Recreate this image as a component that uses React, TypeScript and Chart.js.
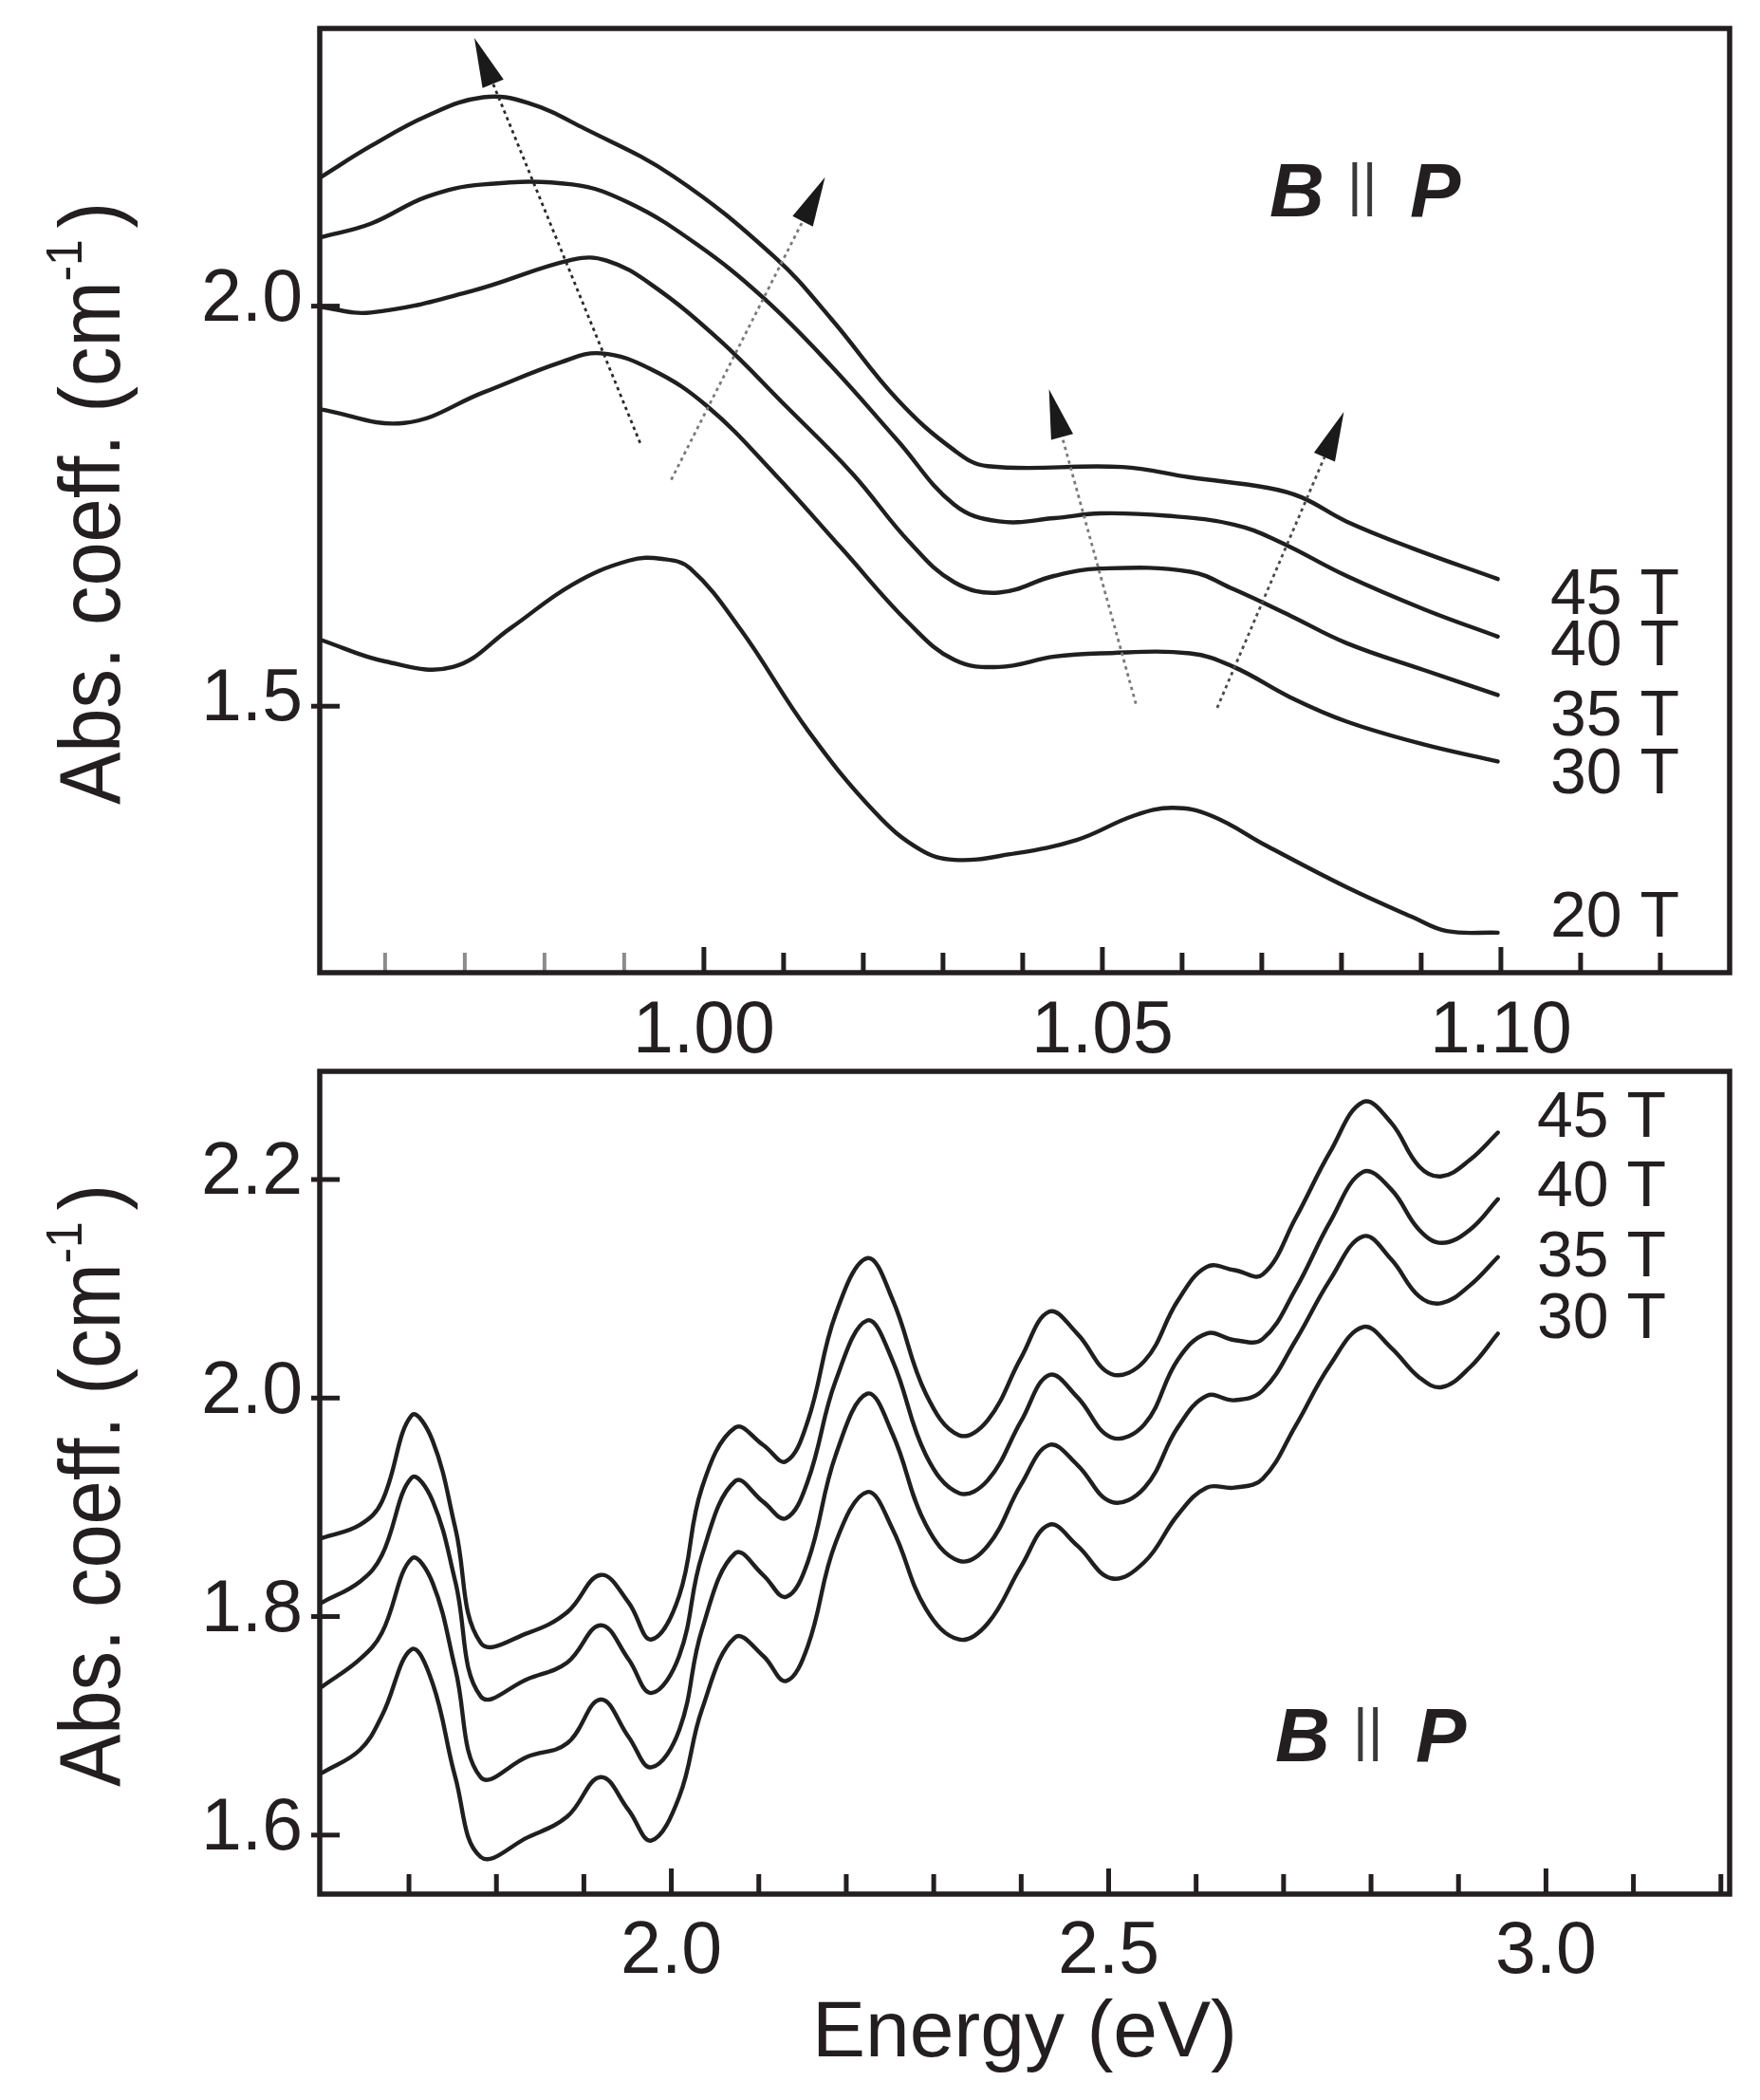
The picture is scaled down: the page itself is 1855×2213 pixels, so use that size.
import React, { useEffect, useRef } from 'react';
import { Chart, registerables } from 'chart.js';

Chart.register(...registerables);

// ---------- upper panel: absorption near 1.0 eV ----------
const TOP_E_20 = [0.9519, 0.96, 0.9685, 0.9758, 0.9835, 0.9906, 0.9948, 0.9983, 1.0046, 1.0131, 1.0215, 1.0271, 1.0314, 1.0384, 1.0468, 1.0539, 1.0588, 1.0637, 1.0707, 1.0806, 1.089, 1.0932, 1.0996];
const TOP_A_20 = [1.583, 1.556, 1.549, 1.598, 1.652, 1.682, 1.684, 1.672, 1.596, 1.469, 1.367, 1.321, 1.308, 1.315, 1.333, 1.363, 1.373, 1.363, 1.325, 1.274, 1.236, 1.219, 1.217];

const TOP_E_30 = [0.9519, 0.9624, 0.9723, 0.9821, 0.9871, 0.9934, 1.0004, 1.0089, 1.0173, 1.0257, 1.0314, 1.037, 1.044, 1.0497, 1.061, 1.0665, 1.0736, 1.0806, 1.0904, 1.0996];
const TOP_A_30 = [1.871, 1.854, 1.892, 1.93, 1.941, 1.921, 1.875, 1.79, 1.697, 1.604, 1.558, 1.549, 1.562, 1.566, 1.566, 1.549, 1.511, 1.481, 1.452, 1.431];

const TOP_E_35 = [0.9519, 0.9582, 0.9709, 0.9835, 0.9878, 0.9934, 1.0018, 1.0103, 1.0187, 1.0257, 1.0314, 1.037, 1.044, 1.0497, 1.061, 1.0665, 1.0736, 1.0806, 1.0904, 1.0996];
const TOP_A_35 = [1.999, 1.992, 2.019, 2.058, 2.057, 2.027, 1.959, 1.875, 1.79, 1.706, 1.655, 1.642, 1.663, 1.672, 1.668, 1.646, 1.613, 1.579, 1.545, 1.514];

const TOP_E_40 = [0.9519, 0.9582, 0.9653, 0.9723, 0.9835, 0.9906, 0.999, 1.0075, 1.0159, 1.0243, 1.0314, 1.037, 1.044, 1.0497, 1.0581, 1.0665, 1.0721, 1.0806, 1.0904, 1.0996];
const TOP_A_40 = [2.086, 2.103, 2.137, 2.152, 2.152, 2.129, 2.078, 2.01, 1.926, 1.832, 1.752, 1.731, 1.735, 1.741, 1.738, 1.727, 1.706, 1.663, 1.621, 1.587];

const TOP_E_45 = [0.9519, 0.9582, 0.9653, 0.9723, 0.9779, 0.985, 0.9962, 1.0089, 1.0159, 1.0243, 1.0314, 1.0356, 1.0525, 1.061, 1.0707, 1.075, 1.0806, 1.089, 1.0996];
const TOP_A_45 = [2.161, 2.2, 2.238, 2.261, 2.254, 2.222, 2.162, 2.061, 1.985, 1.883, 1.82, 1.8, 1.799, 1.786, 1.773, 1.761, 1.731, 1.697, 1.659];

const TOP_FIELDS = ['20 T', '30 T', '35 T', '40 T', '45 T'];
const TOP_X_TICKS = [0.96, 0.97, 0.98, 0.99, 1.0, 1.01, 1.02, 1.03, 1.04, 1.05, 1.06, 1.07, 1.08, 1.09, 1.1, 1.11, 1.12];
const TOP_X_LABELED = [1.0, 1.05, 1.1];
const TOP_Y_TICKS = [1.5, 2.0];

// peak-shift arrows (tail -> tip), in eV and cm^-1
const ARROW_TAIL_E = [0.992, 0.9959, 1.0542, 1.0644];
const ARROW_TAIL_A = [1.829, 1.783, 1.503, 1.498];
const ARROW_TIP_E = [0.9712, 1.0152, 1.0433, 1.0803];
const ARROW_TIP_A = [2.335, 2.161, 1.896, 1.868];

// ---------- lower panel: absorption 1.6 - 3.0 eV ----------
const BOTTOM_E = [1.601, 1.644, 1.669, 1.703, 1.727, 1.753, 1.782, 1.836, 1.881, 1.919, 1.951, 1.977, 2.009, 2.035, 2.073, 2.105, 2.131, 2.156, 2.188, 2.224, 2.253, 2.291, 2.329, 2.362, 2.4, 2.432, 2.464, 2.503, 2.541, 2.579, 2.612, 2.644, 2.676, 2.714, 2.753, 2.791, 2.823, 2.855, 2.881, 2.913, 2.945];
const BOTTOM_A_30 = [1.657, 1.678, 1.709, 1.77, 1.739, 1.653, 1.58, 1.598, 1.617, 1.653, 1.623, 1.595, 1.635, 1.715, 1.781, 1.764, 1.741, 1.773, 1.868, 1.914, 1.88, 1.807, 1.779, 1.794, 1.846, 1.884, 1.865, 1.835, 1.85, 1.893, 1.918, 1.918, 1.926, 1.975, 2.03, 2.065, 2.046, 2.019, 2.01, 2.028, 2.059];
const BOTTOM_A_35 = [1.736, 1.761, 1.785, 1.853, 1.831, 1.752, 1.653, 1.672, 1.684, 1.724, 1.69, 1.662, 1.696, 1.788, 1.858, 1.838, 1.818, 1.85, 1.948, 2.004, 1.967, 1.884, 1.851, 1.865, 1.921, 1.957, 1.939, 1.905, 1.918, 1.973, 2.002, 1.998, 2.007, 2.053, 2.108, 2.148, 2.127, 2.093, 2.087, 2.103, 2.129];
const BOTTOM_A_40 = [1.813, 1.832, 1.856, 1.927, 1.906, 1.832, 1.727, 1.743, 1.758, 1.792, 1.761, 1.73, 1.764, 1.856, 1.924, 1.905, 1.89, 1.924, 2.016, 2.071, 2.034, 1.948, 1.913, 1.925, 1.979, 2.021, 2.001, 1.964, 1.976, 2.035, 2.059, 2.053, 2.054, 2.1, 2.161, 2.207, 2.191, 2.154, 2.142, 2.154, 2.182];
const BOTTOM_A_45 = [1.872, 1.884, 1.905, 1.984, 1.961, 1.881, 1.776, 1.785, 1.804, 1.838, 1.813, 1.779, 1.819, 1.918, 1.973, 1.957, 1.942, 1.979, 2.077, 2.128, 2.09, 2.004, 1.966, 1.98, 2.037, 2.079, 2.059, 2.022, 2.034, 2.089, 2.12, 2.117, 2.113, 2.165, 2.225, 2.271, 2.252, 2.212, 2.203, 2.218, 2.243];

const BOTTOM_FIELDS = ['30 T', '35 T', '40 T', '45 T'];
const BOTTOM_X_TICKS = [1.7, 1.8, 1.9, 2.0, 2.1, 2.2, 2.3, 2.4, 2.5, 2.6, 2.7, 2.8, 2.9, 3.0, 3.1, 3.2];
const BOTTOM_X_LABELED = [2.0, 2.5, 3.0];
const BOTTOM_Y_TICKS = [1.6, 1.8, 2.0, 2.2];

// ---------- styling ----------
const INK = '#231f20';
const CURVE = '#1f1f1f';
const SANS = '"Liberation Sans", Arimo, Arial, Helvetica, sans-serif';
const PAGE_W = 1855;

type Series = { e: number[]; a: number[] };

type PanelSpec = {
  top: number; // canvas offset on the page
  height: number;
  plotLeft: number;
  plotTop: number;
  plotRight: number;
  plotBottom: number;
  xMin: number; xMax: number;
  yMin: number; yMax: number;
  xTicks: number[];
  xLabeled: number[];
  xDigits: number;
  xLabelPad: number;
  yTicks: number[];
  series: Series[];
  fields: string[];
  fieldE: number;
  fieldA: number[];
  tagX: number; tagBaseline: number;
  faintBelow?: number;
  arrows?: boolean;
  xTitle?: string;
};

const TOP_SPEC: PanelSpec = {
  top: 0,
  height: 1110,
  plotLeft: 337,
  plotTop: 30,
  plotRight: 1823,
  plotBottom: 1025,
  xMin: 0.9518, xMax: 1.1287,
  yMin: 1.167, yMax: 2.347,
  xTicks: TOP_X_TICKS,
  xLabeled: TOP_X_LABELED,
  xDigits: 2,
  xLabelPad: 9,
  yTicks: TOP_Y_TICKS,
  series: [
    { e: TOP_E_20, a: TOP_A_20 },
    { e: TOP_E_30, a: TOP_A_30 },
    { e: TOP_E_35, a: TOP_A_35 },
    { e: TOP_E_40, a: TOP_A_40 },
    { e: TOP_E_45, a: TOP_A_45 },
  ],
  fields: TOP_FIELDS,
  fieldE: 1.1062,
  fieldA: [1.234, 1.413, 1.486, 1.574, 1.638],
  tagX: 1338, tagBaseline: 228,
  faintBelow: 0.995,
  arrows: true,
};

const BOTTOM_SPEC: PanelSpec = {
  top: 1110,
  height: 1103,
  plotLeft: 337,
  plotTop: 1129 - 1110,
  plotRight: 1823,
  plotBottom: 1996 - 1110,
  xMin: 1.598, xMax: 3.21,
  yMin: 1.546, yMax: 2.299,
  xTicks: BOTTOM_X_TICKS,
  xLabeled: BOTTOM_X_LABELED,
  xDigits: 1,
  xLabelPad: 8,
  yTicks: BOTTOM_Y_TICKS,
  series: [
    { e: BOTTOM_E, a: BOTTOM_A_30 },
    { e: BOTTOM_E, a: BOTTOM_A_35 },
    { e: BOTTOM_E, a: BOTTOM_A_40 },
    { e: BOTTOM_E, a: BOTTOM_A_45 },
  ],
  fields: BOTTOM_FIELDS,
  fieldE: 2.9897,
  fieldA: [2.071, 2.128, 2.192, 2.2556],
  tagX: 1344, tagBaseline: 1856 - 1110,
  xTitle: 'Energy (eV)',
};

const near = (list: number[], v: number) => list.some((m) => Math.abs(m - v) < 1e-6);

// rotated axis title with a raised "-1"
function drawYTitle(ctx: CanvasRenderingContext2D, baseX: number, midY: number) {
  const size = 90;
  const targetLen = 635;
  const main = 'Abs. coeff. (cm';
  const sup = '-1';
  const close = ')';
  ctx.save();
  ctx.font = `${size}px ${SANS}`;
  const wMain = ctx.measureText(main).width;
  const wClose = ctx.measureText(close).width;
  ctx.font = `${size * 0.6}px ${SANS}`;
  const wSup = ctx.measureText(sup).width;
  const gap = size * 0.14;
  const natural = wMain + wSup + gap + wClose;
  ctx.translate(baseX, midY);
  ctx.rotate(-Math.PI / 2);
  ctx.scale(targetLen / natural, 1);
  ctx.fillStyle = INK;
  ctx.textAlign = 'left';
  ctx.textBaseline = 'alphabetic';
  let cx = -natural / 2;
  ctx.font = `${size}px ${SANS}`;
  ctx.fillText(main, cx, 0);
  cx += wMain;
  ctx.font = `${size * 0.6}px ${SANS}`;
  ctx.fillText(sup, cx, -size * 0.44);
  cx += wSup + gap;
  ctx.font = `${size}px ${SANS}`;
  ctx.fillText(close, cx, 0);
  ctx.restore();
}

// "B || P" orientation tag
function drawTag(ctx: CanvasRenderingContext2D, x: number, baseline: number) {
  const capH = 57;
  ctx.save();
  ctx.fillStyle = INK;
  ctx.textAlign = 'left';
  ctx.textBaseline = 'alphabetic';
  ctx.font = `italic bold 80px ${SANS}`;
  ctx.fillText('B', x, baseline);
  ctx.fillText('P', x + 148, baseline);
  // the bars are sized to span the capital height
  ctx.font = `100px ${SANS}`;
  const m = ctx.measureText('||');
  const span = m.actualBoundingBoxAscent + m.actualBoundingBoxDescent || 114;
  const size = (100 * capH) / span;
  const desc = ((m.actualBoundingBoxDescent || 21) * size) / 100;
  ctx.font = `${size}px ${SANS}`;
  ctx.fillStyle = '#3a3a3a';
  ctx.fillText('||', x + 82, baseline - desc);
  ctx.restore();
}

function makeDecor(spec: PanelSpec) {
  return {
    id: 'panelDecor',
    afterDraw(chart: Chart) {
      const { ctx, chartArea: ca } = chart;
      const xs = chart.scales.x;
      const ys = chart.scales.y;
      ctx.save();

      // inward ticks on the energy axis
      ctx.lineCap = 'butt';
      for (const v of spec.xTicks) {
        const px = xs.getPixelForValue(v);
        const major = near(spec.xLabeled, v);
        const faint = spec.faintBelow !== undefined && v < spec.faintBelow;
        ctx.strokeStyle = faint ? '#8c8c8c' : INK;
        ctx.lineWidth = faint ? 4 : 5;
        ctx.beginPath();
        ctx.moveTo(px, ca.bottom);
        ctx.lineTo(px, ca.bottom - (major ? 27 : 21));
        ctx.stroke();
      }

      // ticks crossing the left axis
      ctx.strokeStyle = INK;
      ctx.lineWidth = 5;
      for (const v of spec.yTicks) {
        const py = ys.getPixelForValue(v);
        ctx.beginPath();
        ctx.moveTo(ca.left - 9, py);
        ctx.lineTo(ca.left + 21, py);
        ctx.stroke();
      }

      // frame
      ctx.lineWidth = 5.5;
      ctx.strokeStyle = INK;
      ctx.strokeRect(ca.left, ca.top, ca.right - ca.left, ca.bottom - ca.top);

      // dotted arrows tracking the peaks
      if (spec.arrows) {
        const shades = ['#2a2a2a', '#7a7a7a', '#7a7a7a', '#4a4a4a'];
        for (let i = 0; i < ARROW_TAIL_E.length; i++) {
          const x0 = xs.getPixelForValue(ARROW_TAIL_E[i]);
          const y0 = ys.getPixelForValue(ARROW_TAIL_A[i]);
          const x1 = xs.getPixelForValue(ARROW_TIP_E[i]);
          const y1 = ys.getPixelForValue(ARROW_TIP_A[i]);
          const len = Math.hypot(x1 - x0, y1 - y0);
          const ux = (x1 - x0) / len;
          const uy = (y1 - y0) / len;
          const headLen = 52;
          const headHalf = 12;
          const bx = x1 - ux * headLen;
          const by = y1 - uy * headLen;
          ctx.strokeStyle = shades[i];
          ctx.lineWidth = 2.8;
          ctx.setLineDash([3.5, 4]);
          ctx.beginPath();
          ctx.moveTo(x0, y0);
          ctx.lineTo(bx, by);
          ctx.stroke();
          ctx.setLineDash([]);
          ctx.fillStyle = '#1a1a1a';
          ctx.beginPath();
          ctx.moveTo(x1, y1);
          ctx.lineTo(bx - uy * headHalf, by + ux * headHalf);
          ctx.lineTo(bx + uy * headHalf, by - ux * headHalf);
          ctx.closePath();
          ctx.fill();
        }
      }

      // field labels beside the curve ends
      ctx.fillStyle = INK;
      ctx.font = `68px ${SANS}`;
      ctx.textAlign = 'left';
      ctx.textBaseline = 'middle';
      const lx = xs.getPixelForValue(spec.fieldE);
      spec.fields.forEach((t, i) => {
        ctx.fillText(t, lx, ys.getPixelForValue(spec.fieldA[i]));
      });

      drawTag(ctx, spec.tagX, spec.tagBaseline);
      drawYTitle(ctx, 126, (ca.top + ca.bottom) / 2 + 3);
      ctx.restore();
    },
  };
}

function buildConfig(spec: PanelSpec): any {
  const tickFont = { family: SANS, size: 77, lineHeight: 1.2 };
  return {
    type: 'line',
    data: {
      datasets: spec.series.map((s) => ({
        data: s.e.map((x, i) => ({ x, y: s.a[i] })),
        borderColor: CURVE,
        borderWidth: 4.4,
        pointRadius: 0,
        fill: false,
        tension: 0.4,
        borderJoinStyle: 'round',
        borderCapStyle: 'round',
      })),
    },
    options: {
      responsive: false,
      animation: false,
      devicePixelRatio: 1,
      events: [],
      layout: {
        autoPadding: false,
        padding: { left: 0, top: spec.plotTop, right: PAGE_W - spec.plotRight, bottom: 0 },
      },
      plugins: { legend: { display: false }, tooltip: { enabled: false } },
      scales: {
        x: {
          type: 'linear',
          min: spec.xMin,
          max: spec.xMax,
          grid: { display: false },
          border: { display: false },
          afterBuildTicks: (s: any) => {
            s.ticks = spec.xTicks.map((v) => ({ value: v }));
          },
          afterFit: (s: any) => {
            s.height = spec.height - spec.plotBottom;
            s.paddingLeft = 0;
            s.paddingRight = 0;
            s.paddingTop = 0;
            s.paddingBottom = 0;
          },
          ticks: {
            autoSkip: false,
            maxRotation: 0,
            minRotation: 0,
            padding: spec.xLabelPad,
            color: INK,
            font: tickFont,
            callback: (v: number) => (near(spec.xLabeled, v) ? Number(v).toFixed(spec.xDigits) : ''),
          },
          title: spec.xTitle
            ? {
                display: true,
                text: spec.xTitle,
                color: INK,
                font: { family: SANS, size: 84, lineHeight: 1.2 },
                padding: { top: 0, bottom: 19 },
              }
            : { display: false },
        },
        y: {
          type: 'linear',
          min: spec.yMin,
          max: spec.yMax,
          grid: { display: false },
          border: { display: false },
          afterBuildTicks: (s: any) => {
            s.ticks = spec.yTicks.map((v) => ({ value: v }));
          },
          afterFit: (s: any) => {
            s.width = spec.plotLeft;
            s.paddingLeft = 0;
            s.paddingRight = 0;
            s.paddingTop = 0;
            s.paddingBottom = 0;
          },
          ticks: {
            autoSkip: false,
            padding: 10,
            labelOffset: -6,
            color: INK,
            font: tickFont,
            callback: (v: number) => Number(v).toFixed(1),
          },
        },
      },
    },
    plugins: [makeDecor(spec)],
  };
}

function Panel({ spec }: { spec: PanelSpec }) {
  const ref = useRef<HTMLCanvasElement>(null);
  useEffect(() => {
    if (!ref.current) return;
    const chart = new Chart(ref.current, buildConfig(spec));
    return () => chart.destroy();
  }, [spec]);
  return (
    <canvas
      ref={ref}
      width={PAGE_W}
      height={spec.height}
      style={{ position: 'absolute', left: 0, top: spec.top, width: PAGE_W, height: spec.height, display: 'block' }}
    />
  );
}

export default function App() {
  return (
    <div style={{ position: 'absolute', left: 0, top: 0, width: PAGE_W, height: 2213, background: '#ffffff', overflow: 'hidden' }}>
      <Panel spec={TOP_SPEC} />
      <Panel spec={BOTTOM_SPEC} />
    </div>
  );
}
